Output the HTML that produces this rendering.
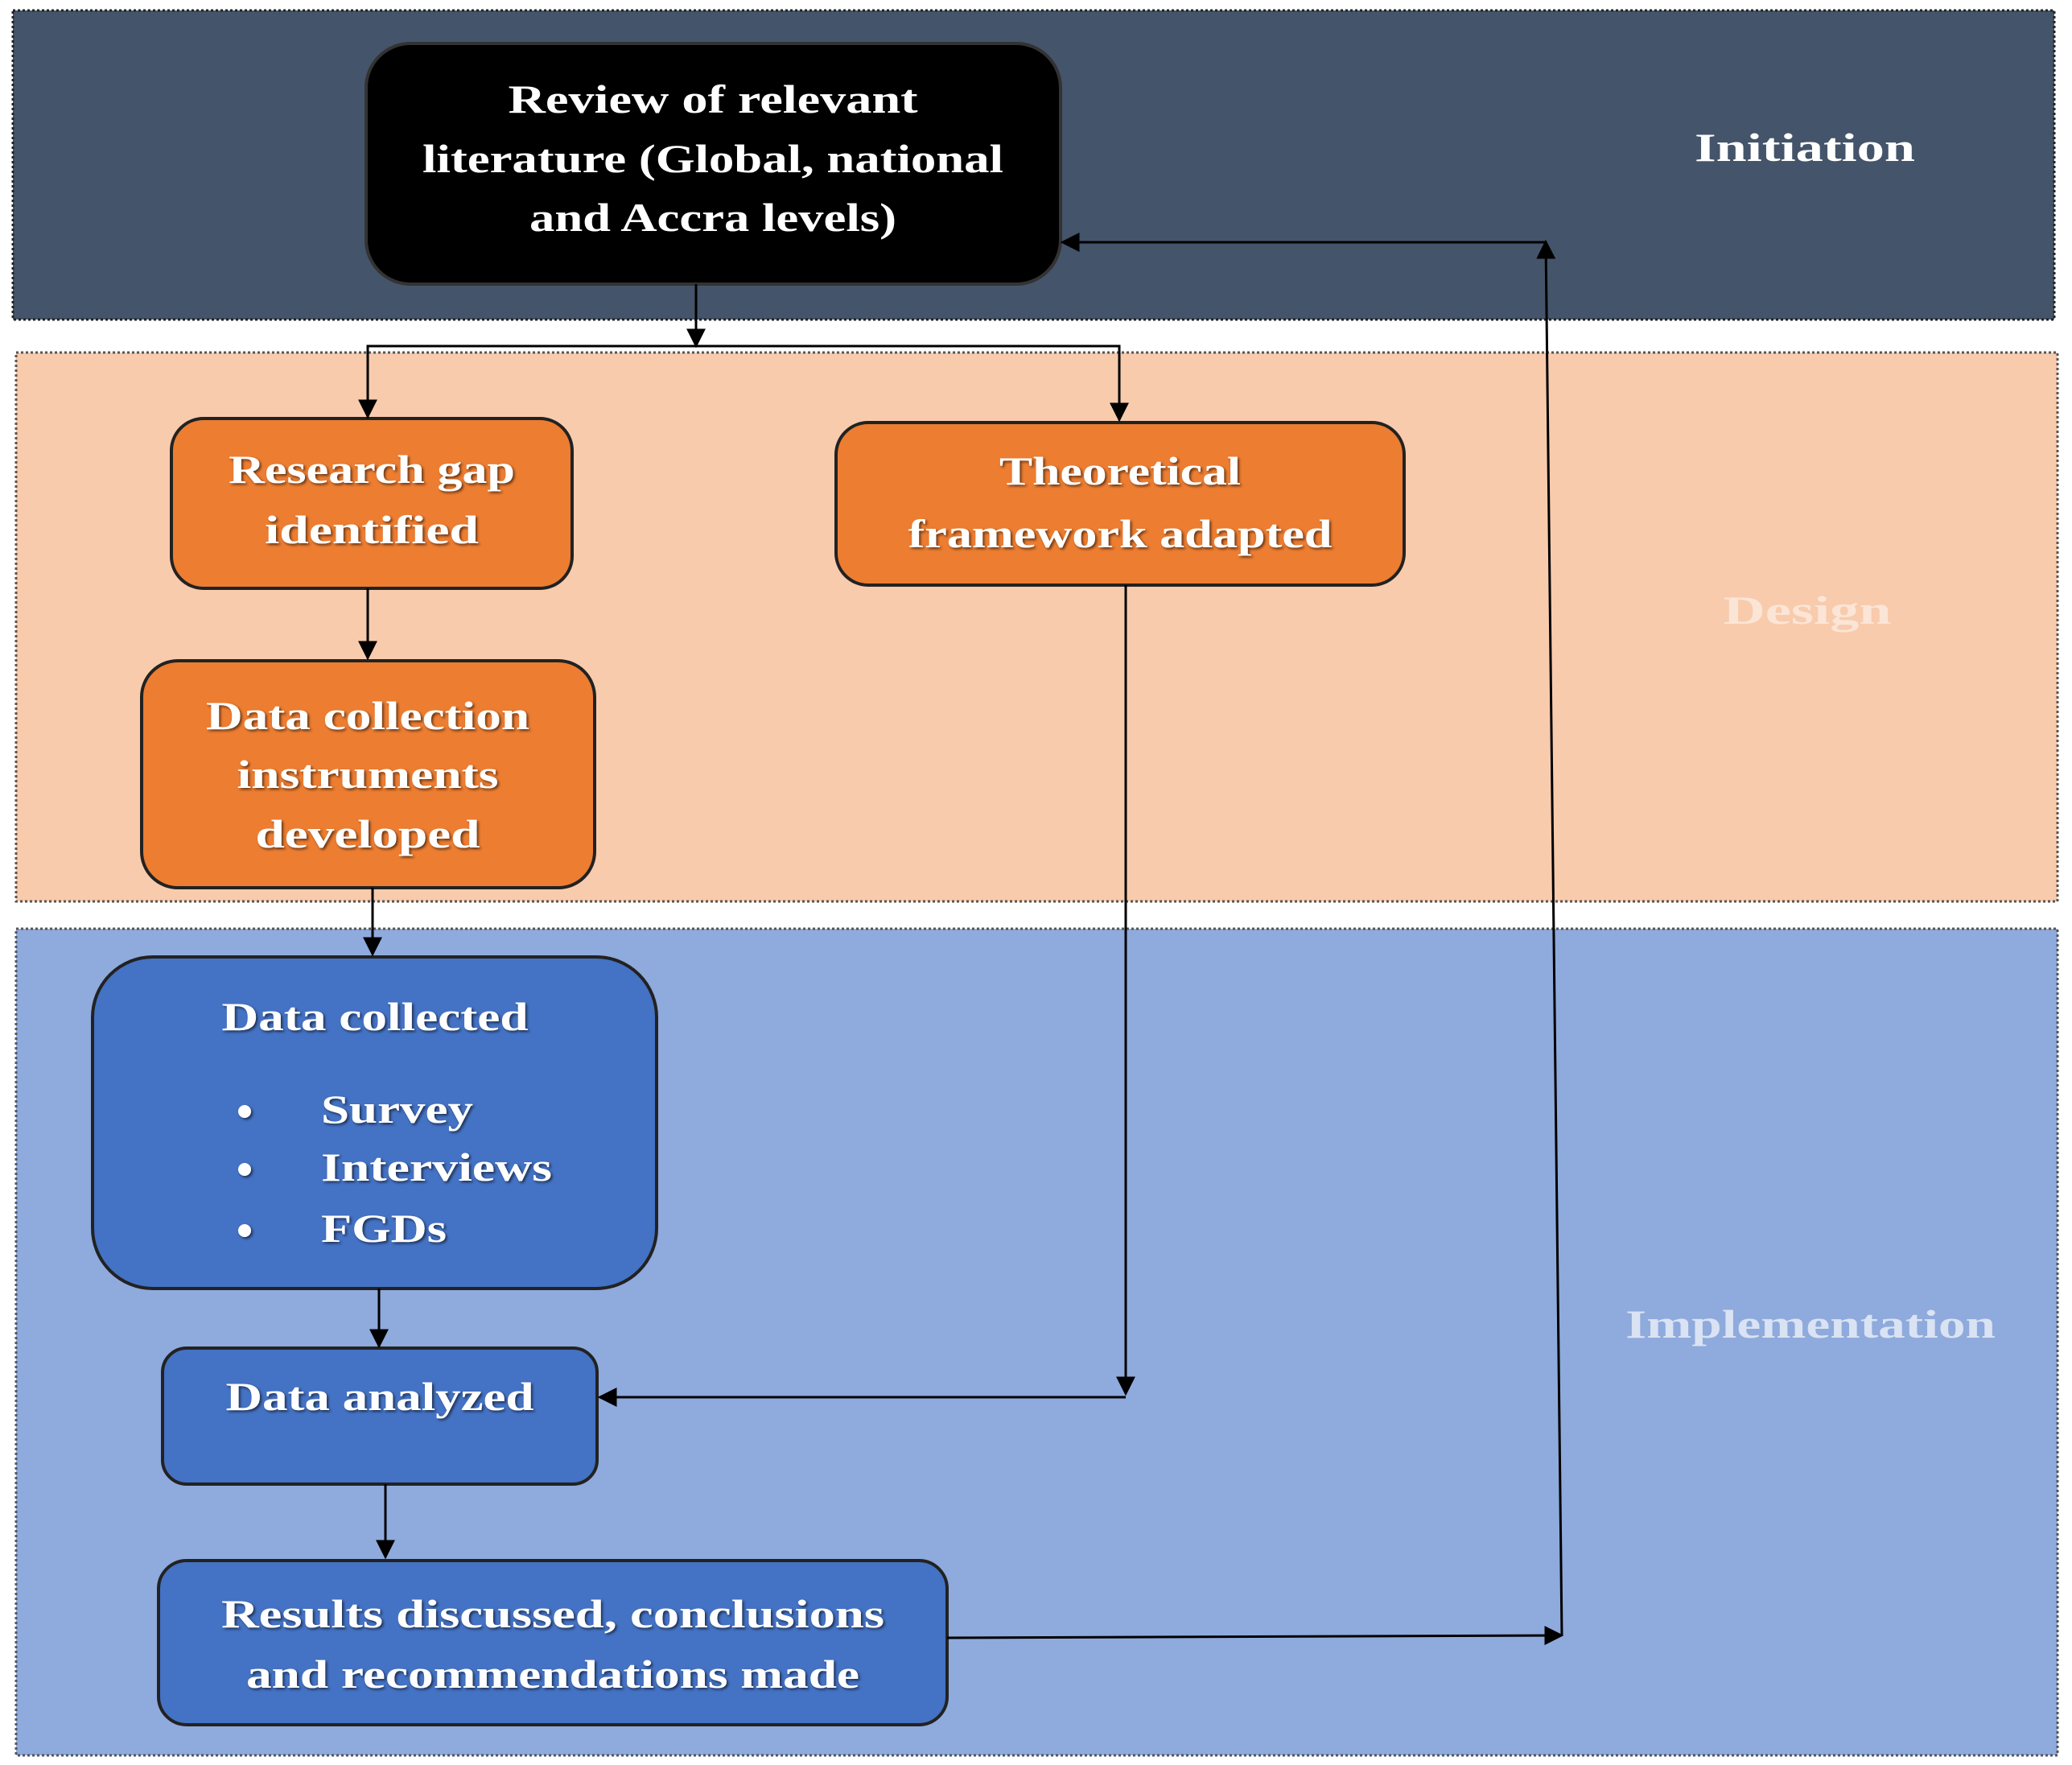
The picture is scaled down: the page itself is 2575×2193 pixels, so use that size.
<!DOCTYPE html>
<html><head><meta charset="utf-8"><style>
html,body{margin:0;padding:0;background:#fff}
svg{display:block}
text{font-family:"Liberation Serif",serif;font-weight:bold;font-size:50px;text-anchor:middle}
.w{fill:#fff}
</style></head><body>
<svg width="2575" height="2193" viewBox="0 0 2575 2193" xmlns="http://www.w3.org/2000/svg">
<defs>
<marker id="b" viewBox="0 0 10 10" refX="9" refY="5" markerWidth="24" markerHeight="24" orient="auto" markerUnits="userSpaceOnUse"><path d="M0,0 L10,5 L0,10 z" fill="#000"/></marker>
<filter id="s"><feDropShadow dx="2" dy="2" stdDeviation="1.5" flood-color="#000" flood-opacity="0.6"/></filter>
</defs>
<rect x="16" y="13" width="2537" height="384" fill="#44546a" stroke="#222" stroke-width="3" stroke-dasharray="3 3"/>
<rect x="20" y="438" width="2537" height="682" fill="#f8cbad" stroke="#555" stroke-width="3" stroke-dasharray="3 3"/>
<rect x="20" y="1154" width="2537" height="1027" fill="#8faadc" stroke="#555" stroke-width="3" stroke-dasharray="3 3"/>
<text x="2243" y="200" class="w" font-size="54" textLength="274" lengthAdjust="spacingAndGlyphs">Initiation</text>
<text x="2246" y="775" fill="#fbe5d6" font-size="54" textLength="209" lengthAdjust="spacingAndGlyphs">Design</text>
<text x="2250" y="1662" fill="#dae3f3" font-size="54" textLength="460" lengthAdjust="spacingAndGlyphs">Implementation</text>

<rect x="455" y="54" width="863" height="299" rx="55" fill="#000" stroke="#333" stroke-width="4"/>
<g class="w" filter="url(#s)">
<text x="886" y="140" textLength="509" lengthAdjust="spacingAndGlyphs">Review of relevant</text>
<text x="886" y="214" textLength="722" lengthAdjust="spacingAndGlyphs">literature (Global, national</text>
<text x="886" y="287" textLength="456" lengthAdjust="spacingAndGlyphs">and Accra levels)</text>
</g>

<rect x="213" y="520" width="498" height="211" rx="40" fill="#ed7d31" stroke="#222" stroke-width="4"/>
<g class="w" filter="url(#s)">
<text x="462" y="600" textLength="356" lengthAdjust="spacingAndGlyphs">Research gap</text>
<text x="462" y="675" textLength="266" lengthAdjust="spacingAndGlyphs">identified</text>
</g>
<rect x="1039" y="525" width="706" height="202" rx="40" fill="#ed7d31" stroke="#222" stroke-width="4"/>
<g class="w" filter="url(#s)">
<text x="1392" y="602" textLength="300" lengthAdjust="spacingAndGlyphs">Theoretical</text>
<text x="1392" y="680" textLength="527" lengthAdjust="spacingAndGlyphs">framework adapted</text>
</g>
<rect x="176" y="821" width="563" height="282" rx="45" fill="#ed7d31" stroke="#222" stroke-width="4"/>
<g class="w" filter="url(#s)">
<text x="457" y="906" textLength="402" lengthAdjust="spacingAndGlyphs">Data collection</text>
<text x="457" y="979" textLength="325" lengthAdjust="spacingAndGlyphs">instruments</text>
<text x="457" y="1053" textLength="279" lengthAdjust="spacingAndGlyphs">developed</text>
</g>

<rect x="115" y="1189" width="701" height="412" rx="75" fill="#4472c4" stroke="#222" stroke-width="4"/>
<g class="w" filter="url(#s)">
<text x="466" y="1280" textLength="381" lengthAdjust="spacingAndGlyphs">Data collected</text>
<circle cx="304" cy="1381" r="8"/><circle cx="304" cy="1453" r="8"/><circle cx="304" cy="1529" r="8"/>
<text x="399" y="1395" style="text-anchor:start" textLength="189" lengthAdjust="spacingAndGlyphs">Survey</text>
<text x="399" y="1467" style="text-anchor:start" textLength="287" lengthAdjust="spacingAndGlyphs">Interviews</text>
<text x="399" y="1543" style="text-anchor:start" textLength="156" lengthAdjust="spacingAndGlyphs">FGDs</text>
</g>
<rect x="202" y="1675" width="540" height="169" rx="30" fill="#4472c4" stroke="#222" stroke-width="4"/>
<g class="w" filter="url(#s)"><text x="472" y="1752" textLength="383" lengthAdjust="spacingAndGlyphs">Data analyzed</text></g>
<rect x="197" y="1939" width="980" height="204" rx="35" fill="#4472c4" stroke="#222" stroke-width="4"/>
<g class="w" filter="url(#s)">
<text x="687" y="2022" textLength="824" lengthAdjust="spacingAndGlyphs">Results discussed, conclusions</text>
<text x="687" y="2097" textLength="762" lengthAdjust="spacingAndGlyphs">and recommendations made</text>
</g>

<g stroke="#000" stroke-width="3" fill="none">
<line x1="865" y1="353" x2="865" y2="430" marker-end="url(#b)"/>
<polyline points="457,520 457,430 1391,430 1391,520" />
<line x1="457" y1="432" x2="457" y2="518" marker-end="url(#b)"/>
<line x1="1391" y1="432" x2="1391" y2="522" marker-end="url(#b)"/>
<line x1="457" y1="731" x2="457" y2="818" marker-end="url(#b)"/>
<line x1="463" y1="1103" x2="463" y2="1186" marker-end="url(#b)"/>
<line x1="471" y1="1601" x2="471" y2="1673" marker-end="url(#b)"/>
<line x1="479" y1="1844" x2="479" y2="1935" marker-end="url(#b)"/>
<line x1="1399" y1="727" x2="1399" y2="1732" marker-end="url(#b)"/>
<line x1="1399" y1="1736" x2="745" y2="1736" marker-end="url(#b)"/>
<line x1="1177" y1="2035" x2="1941" y2="2032" marker-end="url(#b)"/>
<line x1="1941" y1="2032" x2="1921" y2="300" marker-end="url(#b)"/>
<line x1="1921" y1="301" x2="1320" y2="301" marker-end="url(#b)"/>
</g>
</svg>
</body></html>
